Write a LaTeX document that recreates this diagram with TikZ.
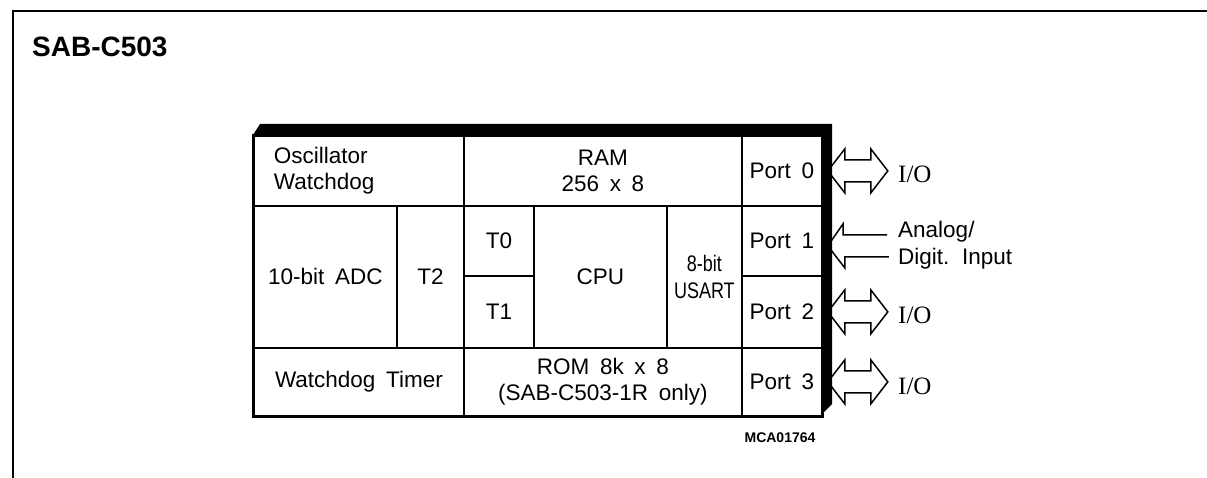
\documentclass[tikz,border=0pt]{standalone}
\usepackage{fontspec}
\setmainfont{Liberation Sans}[WordSpace=1.7]
\newfontfamily\ioserif{Liberation Serif}
\newfontfamily\narrowsans{Liberation Sans}[FakeStretch=0.8, WordSpace=1.7]
\usetikzlibrary{calc}
\newcommand{\cellfont}{\fontsize{22.5}{26}\selectfont}
\begin{document}
\begin{tikzpicture}[x=1pt,y=-1pt,
  cell/.style={draw, line width=1.8pt, inner sep=0pt, anchor=north west, align=center, font=\cellfont},
  lbl/.style={anchor=west, inner sep=0pt, font=\fontsize{22.5}{27}\selectfont, align=left},
  iolbl/.style={anchor=west, inner sep=0pt, font=\ioserif\fontsize{25}{27}\selectfont},
  arr/.style={draw, line width=1.5pt, line join=miter}]
\useasboundingbox (0,0) rectangle (1207,478);
% frame
\draw[line width=2pt] (13,478) -- (13,11) -- (1207,11);
\node[anchor=west, inner sep=0pt, font=\bfseries\fontsize{28}{30}\selectfont] (title) at (32,47) {SAB-C503};
% cells
\node[cell, minimum width=210pt, minimum height=70pt, text width=170pt, align=left] (osc) at (253,135) {Oscillator\\Watchdog};
\node[cell, minimum width=278pt, minimum height=70pt] (ram) at (463,135) {RAM\\256 x 8};
\node[cell, minimum width=80pt, minimum height=70pt] (p0) at (741,135) {Port 0};
\node[cell, minimum width=143pt, minimum height=142pt] (adc) at (253,205) {10-bit ADC};
\node[cell, minimum width=67pt, minimum height=142pt] (t2) at (396,205) {T2};
\node[cell, minimum width=70pt, minimum height=70pt] (t0) at (463,205) {T0};
\node[cell, minimum width=70pt, minimum height=72pt] (t1) at (463,275) {T1};
\node[cell, minimum width=133pt, minimum height=142pt] (cpu) at (533,205) {CPU};
\node[cell, minimum width=75pt, minimum height=142pt, font=\narrowsans\fontsize{22.5}{27}\selectfont] (usart) at (666,205) {8-bit\\USART};
\node[cell, minimum width=80pt, minimum height=70pt] (p1) at (741,205) {Port 1};
\node[cell, minimum width=80pt, minimum height=72pt] (p2) at (741,275) {Port 2};
\node[cell, minimum width=210pt, minimum height=68pt] (wdt) at (253,347) {Watchdog Timer};
\node[cell, minimum width=278pt, minimum height=68pt] (rom) at (463,347) {ROM 8k x 8\\(SAB-C503-1R only)};
\node[cell, minimum width=80pt, minimum height=68pt] (p3) at (741,347) {Port 3};
\draw[line width=2.8pt] (osc.north west) rectangle (p3.south east);
% labels
\node[iolbl] (io0) at (898,174) {I/O};
\node[lbl] (ana) at (898,245) {Analog/\\Digit. Input};
\node[iolbl] (io2) at (898,315) {I/O};
\node[iolbl] (io3) at (898,386) {I/O};
\node[inner sep=0pt, font=\bfseries\fontsize{14}{16}\selectfont] (mca) at (780,438) {MCA01764};
% arrows
\foreach \p/\t in {p0/io0, p2/io2, p3/io3}{
  \draw[arr] ($(\p.east)+(5,0)$ |- \t.west) -- ++(17,-22) -- ++(0,11) -- ++(26,0) -- ++(0,-11)
    -- ++(17,22) -- ++(-17,22) -- ++(0,-11) -- ++(-26,0) -- ++(0,11) -- cycle;
}
\coordinate (tip1) at ($(p1.east)+(5,5)$);
\draw[arr] (ana.west |- tip1) ++(-11,-11) -- ++(-44,0) -- ++(0,-11) -- (tip1)
  -- ++(17,22) -- ++(0,-11) -- ++(44,0);
% shadow
\fill (253,135) -- (260,124) -- (832,124) -- (832,404) -- (821,415) -- (821,135) -- cycle;
\end{tikzpicture}
\end{document}
